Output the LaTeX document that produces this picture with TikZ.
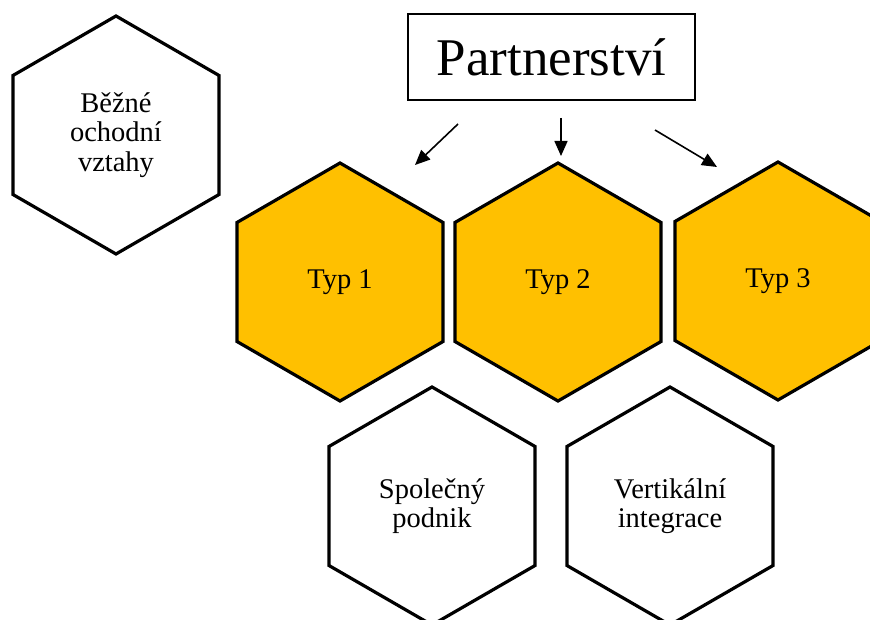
\documentclass[tikz,border=0pt]{standalone}
\usepackage{fontspec}
\setmainfont{Liberation Serif}
\usetikzlibrary{shapes.geometric,arrows.meta}
\definecolor{amber}{HTML}{FFC000}
\begin{document}
\begin{tikzpicture}[x=1pt,y=-1pt,
 hexa/.style={regular polygon, regular polygon sides=6, shape border rotate=30, minimum size=238pt, inner sep=0pt, outer sep=0pt, draw=black, line width=3.2pt, fill=white, font=\fontsize{28.5}{29.5}\selectfont, align=center},
 gold/.style={hexa, fill=amber},
 titlebox/.style={draw=black, line width=1.4pt, minimum width=287pt, minimum height=86pt, inner sep=0pt, font=\fontsize{53}{60}\selectfont},
 arr/.style={line width=1.6pt, -{Triangle[length=15pt,width=13pt]}}]
\useasboundingbox (0,0) rectangle (870,620);
\node[hexa] (bezne) at (116,135) {Běžné\\ochodní\\vztahy};
\node[gold] (typ1) at (340,282) {Typ 1};
\node[gold] (typ2) at (558,282) {Typ 2};
\node[gold] (typ3) at (778,281) {Typ 3};
\node[hexa] (spol) at (432,506) {Společný\\podnik};
\node[hexa] (vert) at (670,506) {Vertikální\\integrace};
\node[titlebox] (part) at (551.5,57) {Partnerství};
\coordinate (a1s) at (458,124);
\coordinate (a1e) at (415,165);
\coordinate (a2s) at (561,118);
\coordinate (a2e) at (561,156);
\coordinate (a3s) at (655,130);
\coordinate (a3e) at (717,167);
\draw[arr] (a1s) -- (a1e);
\draw[arr] (a2s) -- (a2e);
\draw[arr] (a3s) -- (a3e);
\end{tikzpicture}
\end{document}
